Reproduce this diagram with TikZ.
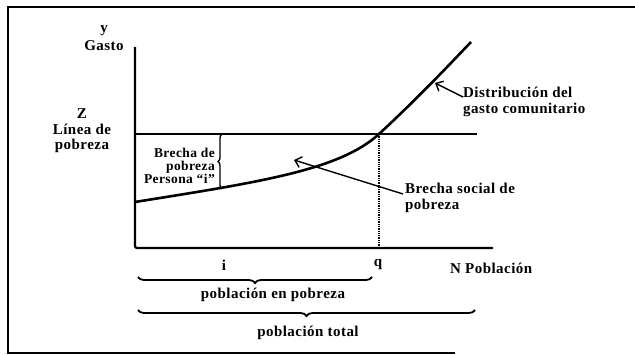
\documentclass[tikz,border=0pt]{standalone}
\usepackage{fontspec}
\setmainfont{Liberation Serif}[LetterSpace=3]
\usetikzlibrary{arrows.meta,decorations.pathreplacing}
\begin{document}
\begin{tikzpicture}[x=1pt,y=-1pt,
  lbl/.style={font=\fontsize{15}{15.5}\selectfont\bfseries, inner sep=0pt, align=center},
  small/.style={font=\fontsize{13.5}{13}\selectfont\bfseries, inner sep=0pt, align=right},
  frame/.style={line width=1.3pt},
  axis/.style={line width=2.2pt, rounded corners=2pt},
  zline/.style={line width=1.3pt},
  curve/.style={line width=2.6pt},
  guide/.style={densely dotted, line width=1.3pt},
  bracev/.style={decorate, decoration={brace, amplitude=4pt}, line width=1.4pt},
  braceh/.style={decorate, decoration={brace, amplitude=6pt}, line width=1.8pt},
  arr/.style={line width=1.4pt, -{Straight Barb[length=6pt,width=11pt]}}]
\useasboundingbox (0,0) rectangle (635,355);
% frame
\coordinate (f1) at (635,7);
\coordinate (f2) at (8,7);
\coordinate (f3) at (8,353);
\coordinate (f4) at (455,353);
\draw[frame] (f1) -- (f2) -- (f3) -- (f4);
% axes
\coordinate (ytop) at (135,47);
\coordinate (O) at (135,248);
\coordinate (xend) at (493,248);
\draw[axis] (ytop) -- (O) -- (xend);
% poverty line
\coordinate (zL) at (135,134);
\coordinate (zR) at (477,134);
\draw[zline] (zL) -- (zR);
% distribution curve
\coordinate (c0) at (135,202);
\coordinate (cq) at (379,134);
\coordinate (cend) at (471,42);
\draw[curve] (c0) .. controls (260,182) and (340,170) .. (cq)
              .. controls (418,98) and (450,64) .. (cend);
\coordinate (qb) at (379,248);
\draw[guide] (cq) -- (qb);
% brace person i
\coordinate (bi1) at (222,189);
\coordinate (bi2) at (222,134);
\draw[bracev] (bi1) -- (bi2);
% labels
\node[lbl] (y) at (104,31) {y};
\node[lbl] (gasto) at (104,46) {Gasto};
\node[lbl] (z) at (82,131) {Z\\Línea de\\pobreza};
\node[small, anchor=east] (bp) at (215,166) {Brecha de\\pobreza\\Persona “i”};
\node[lbl, align=left, anchor=west] (dist) at (463,102) {Distribución del\\gasto comunitario};
\node[lbl, align=left, anchor=west] (bs) at (405,198) {Brecha social de\\pobreza};
\node[lbl] (i) at (224,265) {i};
\node[lbl] (q) at (378,264) {q};
\node[lbl, anchor=west] (N) at (450,268) {N Población};
% arrows
\coordinate (ca) at (435,83);
\coordinate (cb) at (294,160);
\draw[arr] ([yshift=5pt]dist.west) -- (ca);
\draw[arr] ([yshift=4pt,xshift=-2pt]bs.west) -- (cb);
% bottom braces
\coordinate (b1r) at (372,277);
\coordinate (b1l) at (138,277);
\coordinate (b2r) at (475,310);
\coordinate (b2l) at (138,310);
\draw[braceh] (b1r) -- (b1l);
\draw[braceh] (b2r) -- (b2l);
\node[lbl] (pp) at (273,295) {población en pobreza};
\node[lbl] (pt) at (308,333) {población total};
\end{tikzpicture}
\end{document}
